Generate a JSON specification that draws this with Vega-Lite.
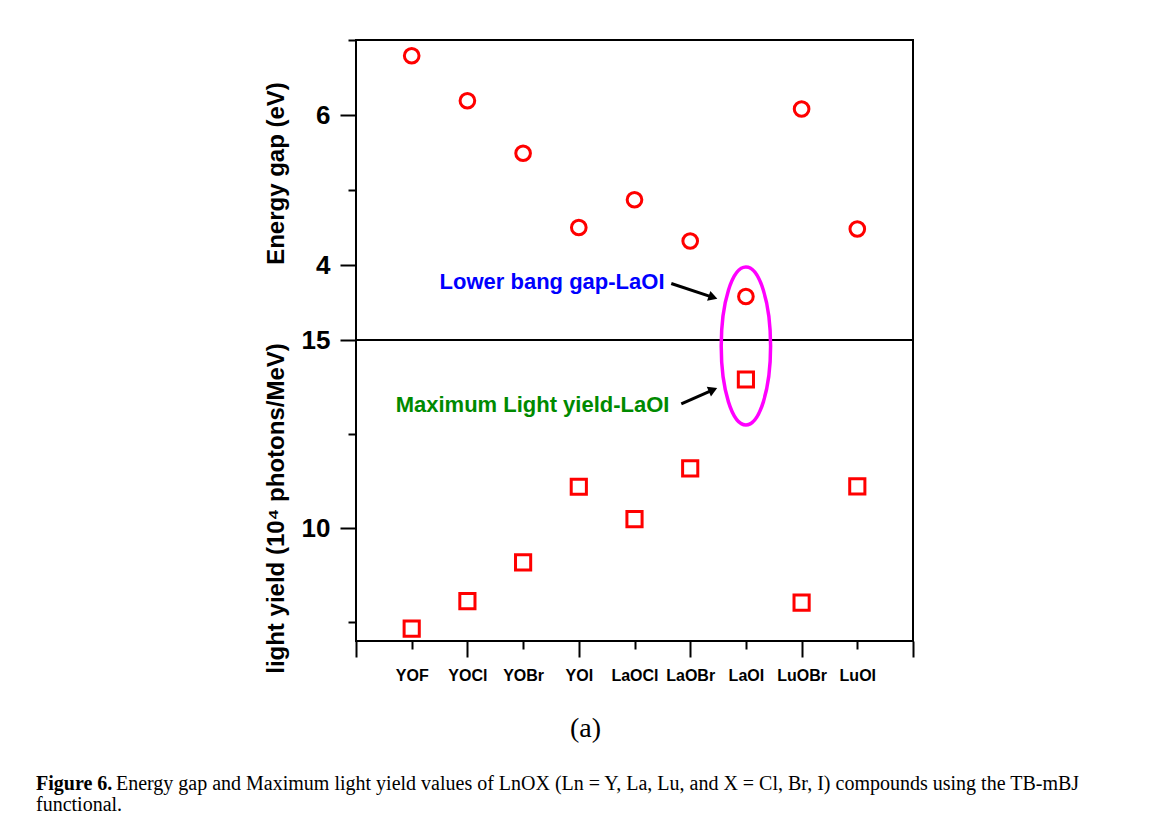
{
  "$schema": "https://vega.github.io/schema/vega-lite/v6.json",
  "padding": {"left": 36, "top": 38, "right": 10, "bottom": 4},
  "background": "white",
  "spacing": 0,
  "bounds": "flush",
  "config": {
    "view": {"stroke": "black", "strokeWidth": 2},
    "font": "Liberation Sans",
    "axis": {
      "grid": false,
      "domain": false,
      "labelColor": "black",
      "titleColor": "black",
      "tickColor": "black",
      "tickWidth": 2,
      "labelFont": "Liberation Sans",
      "titleFont": "Liberation Sans",
      "labelFontWeight": "bold",
      "titleFontWeight": "bold"
    }
  },
  "datasets": {
    "compounds": [
      {"compound": "YOF", "index": 1, "energy_gap": 6.79, "light_yield": 7.33},
      {"compound": "YOCl", "index": 2, "energy_gap": 6.19, "light_yield": 8.06},
      {"compound": "YOBr", "index": 3, "energy_gap": 5.49, "light_yield": 9.09},
      {"compound": "YOI", "index": 4, "energy_gap": 4.5, "light_yield": 11.1},
      {"compound": "LaOCl", "index": 5, "energy_gap": 4.87, "light_yield": 10.24},
      {"compound": "LaOBr", "index": 6, "energy_gap": 4.32, "light_yield": 11.59},
      {"compound": "LaOI", "index": 7, "energy_gap": 3.58, "light_yield": 13.95},
      {"compound": "LuOBr", "index": 8, "energy_gap": 6.08, "light_yield": 8.02},
      {"compound": "LuOI", "index": 9, "energy_gap": 4.48, "light_yield": 11.11}
    ]
  },
  "vconcat": [
    {
      "width": 557,
      "height": 300,
      "layer": [
        {
          "data": {"name": "compounds"},
          "mark": {"type": "point", "shape": "circle", "filled": false, "color": "#ff0000", "strokeWidth": 3, "size": 215, "opacity": 1},
          "encoding": {
            "x": {"field": "index", "type": "quantitative", "scale": {"domain": [0, 10]}, "axis": {"title": null, "orient": "bottom", "ticks": false, "labels": false}},
            "y": {
              "field": "energy_gap",
              "type": "quantitative",
              "scale": {"domain": [3, 7]},
              "axis": {
                "title": "Energy gap (eV)",
                "values": [4, 5, 6, 7],
                "format": "d",
                "labelExpr": "datum.value == 4 || datum.value == 6 ? datum.label : ''",
                "tickSize": {"condition": {"test": "datum.value == 5 || datum.value == 7", "value": 8}, "value": 16},
                "labelFontSize": 26,
                "labelPadding": 10,
                "titleFontSize": 24,
                "titleX": -80,
                "titleY": 133,
                "titleBaseline": "middle"
              }
            }
          }
        },
        {
          "data": {"values": [{"note": "Lower bang gap-LaOI", "x": 3.52, "y": 3.77}]},
          "mark": {"type": "text", "color": "#0000ff", "fontSize": 22, "fontWeight": "bold", "baseline": "middle", "align": "center"},
          "encoding": {
            "x": {"field": "x", "type": "quantitative"},
            "y": {"field": "y", "type": "quantitative"},
            "text": {"field": "note"}
          }
        },
        {
          "data": {"values": [{"x": 5.66, "y": 3.753, "x2": 6.41, "y2": 3.569}]},
          "mark": {"type": "rule", "strokeWidth": 3, "color": "black"},
          "encoding": {
            "x": {"field": "x", "type": "quantitative"},
            "y": {"field": "y", "type": "quantitative"},
            "x2": {"field": "x2"},
            "y2": {"field": "y2"}
          }
        },
        {
          "data": {"values": [{"x": 5.66, "y": 3.753, "x2": 6.41, "y2": 3.569}]},
          "mark": {"type": "point", "shape": "triangle-right", "filled": true, "color": "black", "size": 110, "angle": 18.4, "opacity": 1},
          "encoding": {
            "x": {"field": "x2", "type": "quantitative"},
            "y": {"field": "y2", "type": "quantitative"}
          }
        }
      ]
    },
    {
      "width": 557,
      "height": 301,
      "layer": [
        {
          "data": {"name": "compounds"},
          "mark": {"type": "point", "shape": "square", "filled": false, "color": "#ff0000", "strokeWidth": 3, "size": 230, "opacity": 1},
          "encoding": {
            "x": {
              "field": "index",
              "type": "quantitative",
              "scale": {"domain": [0, 10]},
              "axis": {
                "title": null,
                "values": [0, 1, 2, 3, 4, 5, 6, 7, 8, 9, 10],
                "labelExpr": "['', 'YOF', 'YOCl', 'YOBr', 'YOI', 'LaOCl', 'LaOBr', 'LaOI', 'LuOBr', 'LuOI', ''][datum.value]",
                "tickSize": {"condition": {"test": "datum.value % 2 == 1", "value": 8}, "value": 16},
                "labelPadding": {"condition": {"test": "datum.value % 2 == 1", "value": 18}, "value": 10},
                "labelFontSize": 16,
                "labelFlush": false,
                "labelOverlap": false
              }
            },
            "y": {
              "field": "light_yield",
              "type": "quantitative",
              "scale": {"domain": [7, 15]},
              "axis": {
                "title": "light yield (10⁴ photons/MeV)",
                "values": [7.5, 10, 12.5, 15],
                "labelExpr": "datum.value == 10 || datum.value == 15 ? datum.label : ''",
                "tickSize": {"condition": {"test": "datum.value == 7.5 || datum.value == 12.5", "value": 8}, "value": 16},
                "labelFontSize": 26,
                "labelPadding": 10,
                "titleFontSize": 24,
                "titleX": -80,
                "titleY": 168,
                "titleBaseline": "middle"
              }
            }
          }
        },
        {
          "data": {"values": [{"x": 7, "y": 14.84}]},
          "mark": {"type": "point", "shape": "M0,-1A0.3125,1 0 1,1 0,1A0.3125,1 0 1,1 0,-1Z", "filled": false, "color": "#ff00ff", "strokeWidth": 3.5, "size": 24964, "opacity": 1},
          "encoding": {
            "x": {"field": "x", "type": "quantitative"},
            "y": {"field": "y", "type": "quantitative"}
          }
        },
        {
          "data": {"values": [{"note": "Maximum Light yield-LaOI", "x": 3.17, "y": 13.27}]},
          "mark": {"type": "text", "color": "#008a00", "fontSize": 22, "fontWeight": "bold", "baseline": "middle", "align": "center"},
          "encoding": {
            "x": {"field": "x", "type": "quantitative"},
            "y": {"field": "y", "type": "quantitative"},
            "text": {"field": "note"}
          }
        },
        {
          "data": {"values": [{"x": 5.84, "y": 13.3, "x2": 6.41, "y2": 13.675}]},
          "mark": {"type": "rule", "strokeWidth": 3, "color": "black"},
          "encoding": {
            "x": {"field": "x", "type": "quantitative"},
            "y": {"field": "y", "type": "quantitative"},
            "x2": {"field": "x2"},
            "y2": {"field": "y2"}
          }
        },
        {
          "data": {"values": [{"x": 5.84, "y": 13.3, "x2": 6.41, "y2": 13.675}]},
          "mark": {"type": "point", "shape": "triangle-right", "filled": true, "color": "black", "size": 110, "angle": -23.6, "opacity": 1},
          "encoding": {
            "x": {"field": "x2", "type": "quantitative"},
            "y": {"field": "y2", "type": "quantitative"}
          }
        }
      ]
    },
    {
      "width": 557,
      "height": 180,
      "view": {"stroke": null},
      "layer": [
        {
          "data": {"values": [{"caption": "(a)", "x": 4.12, "y": 0.511}]},
          "mark": {"type": "text", "font": "Liberation Serif", "fontSize": 28, "baseline": "middle", "align": "center", "color": "black"},
          "encoding": {
            "x": {"field": "x", "type": "quantitative", "scale": {"domain": [0, 10]}, "axis": null},
            "y": {"field": "y", "type": "quantitative", "scale": {"domain": [0, 1]}, "axis": null},
            "text": {"field": "caption"}
          }
        },
        {
          "data": {"values": [{"caption": "Figure 6.", "x": -5.745, "y": 0.2056}]},
          "mark": {"type": "text", "font": "Liberation Serif", "fontSize": 20, "fontWeight": "bold", "baseline": "middle", "align": "left", "color": "black"},
          "encoding": {
            "x": {"field": "x", "type": "quantitative", "scale": {"domain": [0, 10]}, "axis": null},
            "y": {"field": "y", "type": "quantitative", "scale": {"domain": [0, 1]}, "axis": null},
            "text": {"field": "caption"}
          }
        },
        {
          "data": {"values": [
            {"caption": "Energy gap and Maximum light yield values of LnOX (Ln = Y, La, Lu, and X = Cl, Br, I) compounds using the TB-mBJ", "x": -4.31, "y": 0.2056},
            {"caption": "functional.", "x": -5.745, "y": 0.0889}
          ]},
          "mark": {"type": "text", "font": "Liberation Serif", "fontSize": 20, "baseline": "middle", "align": "left", "color": "black"},
          "encoding": {
            "x": {"field": "x", "type": "quantitative", "scale": {"domain": [0, 10]}, "axis": null},
            "y": {"field": "y", "type": "quantitative", "scale": {"domain": [0, 1]}, "axis": null},
            "text": {"field": "caption"}
          }
        }
      ]
    }
  ]
}
